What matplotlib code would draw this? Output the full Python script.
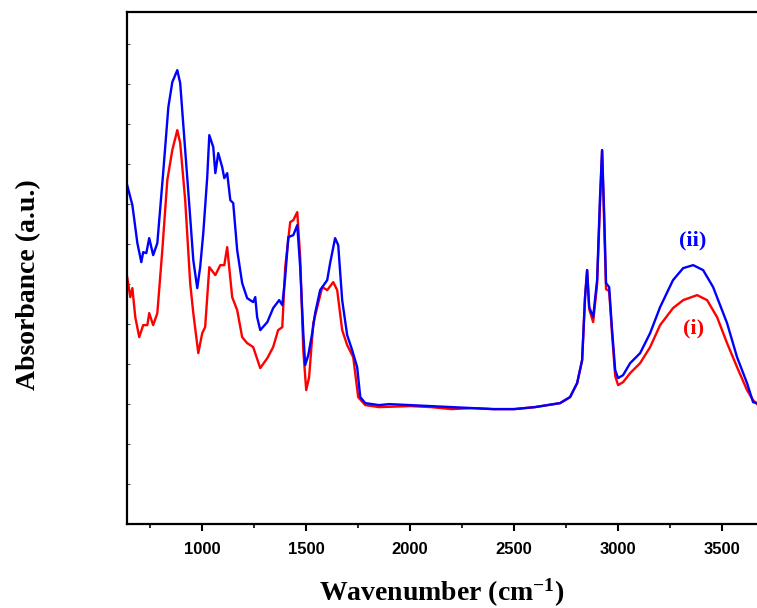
import matplotlib
matplotlib.use("Agg")
import matplotlib.pyplot as plt
from matplotlib.ticker import MultipleLocator

plt.rcParams["mathtext.fontset"] = "custom"
plt.rcParams["mathtext.rm"] = "Liberation Serif:bold"
plt.rcParams["mathtext.it"] = "Liberation Serif:bold"
plt.rcParams["mathtext.bf"] = "Liberation Serif:bold"

# Series (i) red
wn_i = [639, 654, 664, 678, 697, 716, 736, 745, 764, 784, 808, 832, 856, 880, 894, 918, 942, 957, 981,
        1000, 1014, 1034, 1063, 1087, 1106, 1120, 1144, 1168, 1192, 1216, 1245, 1279, 1313, 1341, 1365,
        1385, 1399, 1423, 1438, 1457, 1471, 1486, 1500, 1514, 1534, 1577, 1601, 1630, 1649, 1673, 1697,
        1726, 1750, 1784, 1850, 2000, 2100, 2200, 2300, 2400, 2500, 2600, 2721, 2769, 2803, 2827, 2841,
        2851, 2861, 2880, 2899, 2913, 2923, 2933, 2942, 2957, 2971, 2986, 3000, 3024, 3058, 3106, 3154,
        3202, 3264, 3313, 3380, 3428, 3476, 3524, 3572, 3620, 3649, 3668]
ab_i = [2.47, 2.27, 2.36, 2.07, 1.87, 1.99, 1.99, 2.11, 1.99, 2.11, 2.74, 3.44, 3.74, 3.94, 3.81, 3.24, 2.41,
        2.11, 1.71, 1.91, 1.97, 2.57, 2.49, 2.59, 2.59, 2.77, 2.27, 2.14, 1.87, 1.81, 1.77, 1.56, 1.66, 1.77,
        1.94, 1.97, 2.57, 3.02, 3.04, 3.12, 2.67, 1.74, 1.34, 1.47, 2.01, 2.37, 2.34, 2.42, 2.34, 1.94, 1.79,
        1.67, 1.27, 1.19, 1.17, 1.18, 1.17, 1.15, 1.16, 1.15, 1.15, 1.17, 1.21, 1.27, 1.41, 1.64, 2.27,
        2.54, 2.15, 2.02, 2.40, 3.20, 3.74, 3.00, 2.35, 2.33, 1.90, 1.48, 1.39, 1.42, 1.51, 1.61, 1.77,
        1.99, 2.16, 2.24, 2.29, 2.24, 2.07, 1.81, 1.57, 1.34, 1.24, 1.20]

# Series (ii) blue
wn_ii = [639, 664, 688, 707, 716, 731, 745, 764, 784, 812, 837, 856, 880, 894, 918, 942, 957, 976, 990,
         1005, 1024, 1034, 1053, 1063, 1077, 1096, 1106, 1120, 1135, 1149, 1168, 1192, 1216, 1245, 1255,
         1264, 1279, 1313, 1341, 1370, 1385, 1399, 1414, 1438, 1457, 1471, 1486, 1495, 1510, 1529, 1543,
         1567, 1601, 1615, 1639, 1654, 1673, 1697, 1721, 1745, 1760, 1784, 1850, 1900, 2000, 2100, 2200,
         2300, 2400, 2500, 2600, 2721, 2769, 2803, 2827, 2841, 2851, 2861, 2880, 2899, 2913, 2923, 2933,
         2942, 2957, 2971, 2986, 3000, 3024, 3058, 3106, 3154, 3202, 3264, 3313, 3361, 3409, 3457, 3524,
         3572, 3620, 3649, 3668]
ab_ii = [3.39, 3.19, 2.81, 2.62, 2.72, 2.71, 2.86, 2.69, 2.81, 3.51, 4.17, 4.42, 4.54, 4.41, 3.74, 3.07,
         2.64, 2.36, 2.57, 2.91, 3.47, 3.89, 3.77, 3.51, 3.71, 3.57, 3.46, 3.51, 3.24, 3.21, 2.74, 2.41,
         2.26, 2.22, 2.27, 2.07, 1.94, 2.02, 2.16, 2.24, 2.19, 2.47, 2.87, 2.89, 2.99, 2.57, 1.91, 1.59,
         1.69, 1.91, 2.11, 2.34, 2.44, 2.61, 2.86, 2.79, 2.24, 1.89, 1.74, 1.57, 1.27, 1.21, 1.19, 1.20,
         1.19, 1.18, 1.17, 1.16, 1.15, 1.15, 1.17, 1.21, 1.27, 1.41, 1.64, 2.27, 2.54, 2.17, 2.07, 2.44,
         3.27, 3.74, 3.11, 2.41, 2.37, 1.94, 1.54, 1.46, 1.49, 1.61, 1.71, 1.91, 2.17, 2.44, 2.56, 2.59,
         2.54, 2.37, 2.01, 1.67, 1.41, 1.22, 1.21]

xticks = [1000, 1500, 2000, 2500, 3000, 3500]

fig = plt.figure(figsize=(7.57, 6.08), dpi=100)
ax = fig.add_axes([0.168, 0.138, 0.832, 0.842])

ax.plot(wn_i, ab_i, color="#ff0000", lw=1.7)
ax.plot(wn_ii, ab_ii, color="#0000ff", lw=1.7)

ax.set_xlim(639, 3668)
ax.set_ylim(0, 5.12)
ax.set_xticks(xticks)
ax.xaxis.set_minor_locator(MultipleLocator(250))
ax.set_xticklabels([str(t) for t in xticks], fontfamily="Liberation Sans", fontweight="bold", fontsize=12)
ax.tick_params(axis="x", which="major", direction="out", length=5, width=1.5, pad=8)
ax.tick_params(axis="x", which="minor", direction="out", length=3, width=1.2)
ax.yaxis.set_major_locator(MultipleLocator(0.4))
ax.tick_params(axis="y", which="major", direction="in", length=2, width=0.8, labelleft=False, colors="#555555")

for s in ["left", "bottom", "top"]:
    ax.spines[s].set_linewidth(1.6)
ax.spines["right"].set_visible(False)

ax.set_xlabel("Wavenumber (cm$^{\\mathregular{-1}}$)", fontfamily="Liberation Serif", fontweight="bold", fontsize=20)
ax.xaxis.set_label_coords(0.5, -0.150)
ax.xaxis.label.set_va("baseline")
ax.set_ylabel("Absorbance (a.u.)", fontfamily="Liberation Serif", fontweight="bold", fontsize=20)
ax.yaxis.set_label_coords(-0.157, 0.468)
ax.yaxis.label.set_va("center")

ax.text(3361, 2.84, "(ii)", color="#0000ff", fontfamily="Liberation Serif", fontweight="bold", fontsize=16, ha="center", va="center")
ax.text(3361, 1.96, "(i)", color="#ff0000", fontfamily="Liberation Serif", fontweight="bold", fontsize=16, ha="center", va="center")

fig.savefig("out.png", dpi=100)
